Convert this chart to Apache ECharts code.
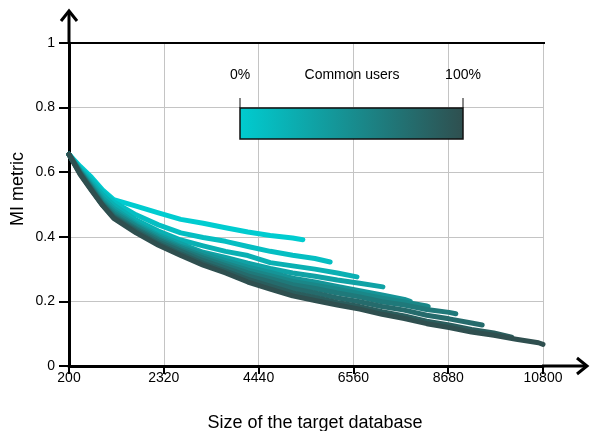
<!DOCTYPE html>
<html>
<head>
<meta charset="utf-8">
<script src="https://cdn.jsdelivr.net/npm/echarts@6/dist/echarts.min.js"></script>
<style>html,body{margin:0;padding:0;background:#fff;}#chart{width:592px;height:431px;}</style>
</head>
<body>
<div id="chart"></div>
<script>
// ---- data ----
const xTicks = [200, 2320, 4440, 6560, 8680, 10800];
const sizes = [200, 450, 700, 950, 1200, 1700, 2200, 2700, 3200, 3700, 4200, 4700, 5200, 5700, 6200, 6700, 7200, 7700, 8200, 8700, 9200, 9700, 10200, 10700];
const commonUsers = ['0%', '11%', '22%', '33%', '44%', '56%', '67%', '78%', '89%', '100%'];
const endSizes = [5430, 6040, 6640, 7220, 7830, 8230, 8850, 9440, 10100, 10800];
const line0 = [0.655, 0.618, 0.585, 0.545, 0.515, 0.495, 0.474, 0.454, 0.442, 0.428, 0.415, 0.404, 0.396, 0.391];
const line1 = [0.655, 0.612, 0.578, 0.540, 0.508, 0.468, 0.437, 0.412, 0.398, 0.386, 0.370, 0.355, 0.343, 0.333, 0.322];
const line2 = [0.655, 0.608, 0.570, 0.530, 0.498, 0.452, 0.418, 0.390, 0.372, 0.355, 0.342, 0.320, 0.310, 0.300, 0.288, 0.276];
const line3 = [0.655, 0.605, 0.563, 0.520, 0.488, 0.442, 0.405, 0.378, 0.352, 0.336, 0.318, 0.302, 0.288, 0.278, 0.266, 0.256, 0.245];
const line4 = [0.655, 0.603, 0.558, 0.512, 0.480, 0.436, 0.400, 0.370, 0.348, 0.326, 0.306, 0.290, 0.272, 0.260, 0.246, 0.233, 0.220, 0.206, 0.200];
const line5 = [0.655, 0.601, 0.554, 0.507, 0.474, 0.432, 0.394, 0.366, 0.340, 0.318, 0.297, 0.280, 0.262, 0.250, 0.238, 0.224, 0.210, 0.198, 0.186, 0.184];
const line6 = [0.655, 0.599, 0.551, 0.503, 0.468, 0.426, 0.390, 0.360, 0.334, 0.311, 0.288, 0.270, 0.252, 0.240, 0.226, 0.214, 0.199, 0.189, 0.175, 0.166, 0.162];
const line7 = [0.655, 0.597, 0.548, 0.500, 0.463, 0.422, 0.384, 0.355, 0.326, 0.303, 0.279, 0.260, 0.240, 0.226, 0.211, 0.199, 0.184, 0.173, 0.157, 0.146, 0.133, 0.127];
const line8 = [0.655, 0.595, 0.546, 0.498, 0.460, 0.417, 0.378, 0.347, 0.318, 0.294, 0.268, 0.247, 0.226, 0.212, 0.197, 0.184, 0.168, 0.155, 0.139, 0.127, 0.113, 0.102, 0.089];
const line9 = [0.655, 0.593, 0.544, 0.497, 0.457, 0.412, 0.374, 0.342, 0.312, 0.288, 0.260, 0.238, 0.217, 0.203, 0.189, 0.176, 0.160, 0.147, 0.131, 0.119, 0.105, 0.095, 0.083, 0.072, 0.067];
const lines = [line0, line1, line2, line3, line4, line5, line6, line7, line8, line9];

// ---- styling ----
const cStart = [0, 204, 208];
const cEnd = [47, 79, 79];
function mix(t) {
  const c = cStart.map((s, i) => Math.round(s + (cEnd[i] - s) * t));
  return 'rgb(' + c.join(',') + ')';
}

const series = lines.map((vals, k) => {
  const data = vals.map((v, i) => [i === vals.length - 1 ? endSizes[k] : sizes[i], v]);
  return {
    type: 'line',
    name: commonUsers[k],
    data: data,
    showSymbol: false,
    symbol: 'none',
    silent: true,
    z: 2 + k,
    lineStyle: { color: mix(k / (lines.length - 1)), width: 5, cap: 'round', join: 'round' }
  };
});

const font = 'Liberation Sans, Arial, sans-serif';
const chart = echarts.init(document.getElementById('chart'), null, { renderer: 'canvas' });
chart.setOption({
  animation: false,
  backgroundColor: '#fff',
  grid: { left: 69, right: 49, top: 43, bottom: 65, containLabel: false },
  xAxis: {
    type: 'value', min: 200, max: 10800,
    axisLine: { show: true, onZero: false, lineStyle: { color: '#000', width: 3 } },
    axisTick: { show: true, length: 8, customValues: xTicks, lineStyle: { color: '#000', width: 2 } },
    axisLabel: { customValues: xTicks, margin: 5, color: '#000', fontSize: 14, fontFamily: font, formatter: v => String(v) },
    splitLine: { show: true, lineStyle: { color: '#c4c4c4', width: 1 } }
  },
  yAxis: {
    type: 'value', min: 0, max: 1, interval: 0.2,
    axisLine: { show: true, onZero: false, lineStyle: { color: '#000', width: 3 } },
    axisTick: { show: true, length: 10, lineStyle: { color: '#000', width: 2 } },
    axisLabel: { margin: 14, color: '#000', fontSize: 14, fontFamily: font },
    splitLine: { show: true, lineStyle: { color: '#c4c4c4', width: 1 } }
  },
  series: series,
  graphic: [
    { type: 'line', z: 50, shape: { x1: 69, y1: 43, x2: 545, y2: 43 }, style: { stroke: '#000', lineWidth: 2 } },
    { type: 'line', z: 50, shape: { x1: 69, y1: 44, x2: 69, y2: 11 }, style: { stroke: '#000', lineWidth: 3 } },
    { type: 'polyline', z: 50, shape: { points: [[61, 21], [69, 11], [77, 21]] }, style: { stroke: '#000', lineWidth: 3, fill: null, lineJoin: 'miter' } },
    { type: 'line', z: 50, shape: { x1: 542, y1: 366, x2: 587, y2: 366 }, style: { stroke: '#000', lineWidth: 3 } },
    { type: 'polyline', z: 50, shape: { points: [[577, 358], [587, 366], [577, 374]] }, style: { stroke: '#000', lineWidth: 3, fill: null, lineJoin: 'miter' } },
    { type: 'text', z: 50, x: 315, y: 423, style: { text: 'Size of the target database', font: '18px ' + font, fill: '#000', textAlign: 'center', textVerticalAlign: 'middle' } },
    { type: 'text', z: 50, x: 18, y: 189, rotation: Math.PI / 2, style: { text: 'MI metric', font: '18px ' + font, fill: '#000', textAlign: 'center', textVerticalAlign: 'middle' } },
    { type: 'rect', z: 50, shape: { x: 240, y: 108, width: 223, height: 31 },
      style: { fill: new echarts.graphic.LinearGradient(0, 0, 1, 0, [{ offset: 0, color: 'rgb(0,204,208)' }, { offset: 1, color: 'rgb(47,79,79)' }]), stroke: '#111', lineWidth: 1.5 } },
    { type: 'line', z: 50, shape: { x1: 240, y1: 98, x2: 240, y2: 108 }, style: { stroke: '#111', lineWidth: 1 } },
    { type: 'line', z: 50, shape: { x1: 463, y1: 98, x2: 463, y2: 108 }, style: { stroke: '#111', lineWidth: 1 } },
    { type: 'text', z: 50, x: 240, y: 75, style: { text: '0%', font: '14px ' + font, fill: '#000', textAlign: 'center', textVerticalAlign: 'middle' } },
    { type: 'text', z: 50, x: 352, y: 75, style: { text: 'Common users', font: '14px ' + font, fill: '#000', textAlign: 'center', textVerticalAlign: 'middle' } },
    { type: 'text', z: 50, x: 463, y: 75, style: { text: '100%', font: '14px ' + font, fill: '#000', textAlign: 'center', textVerticalAlign: 'middle' } }
  ]
});
</script>
</body>
</html>
